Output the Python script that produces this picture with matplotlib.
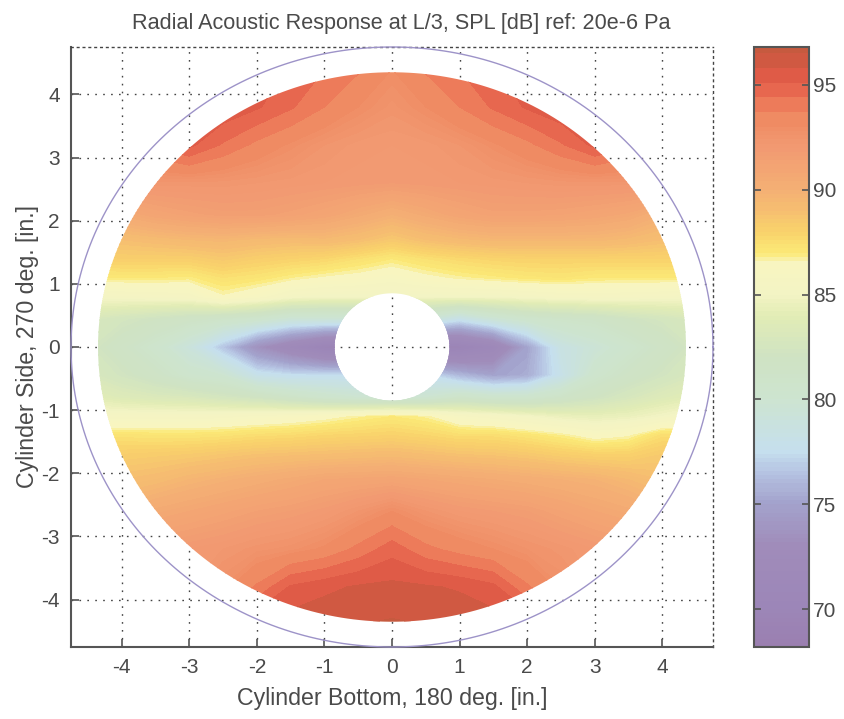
"""
    Radial acoustic response of the cylinder at L/3
"""

import numpy as np
import matplotlib.pyplot as plt
from matplotlib.colors import LinearSegmentedColormap
from matplotlib.patches import PathPatch
from matplotlib.path import Path

plt.rcParams['font.family'] = ['Liberation Sans', 'DejaVu Sans']
plt.rcParams['axes.unicode_minus'] = False

# measurement grid, inches
x_in = [-4.5, -4, -3.5, -3, -2.5, -2, -1.5, -1, -0.5, 0, 0.5, 1, 1.5, 2, 2.5, 3, 3.5, 4, 4.5]
y_in = [4.4, 3.8, 3.2, 2.6, 2.1, 1.7, 1.4, 1.1, 0.8, 0.45, 0, -0.45, -0.8, -1.1, -1.4, -1.7, -2.1, -2.6, -3.2, -3.8, -4.4]

# SPL in dB, one row per y_in
spl_p44 = [95, 95, 95.2, 95.6, 95.7, 95.6, 95, 94.4, 93.8, 93, 93.8, 94.4, 95, 95.6, 95.8, 95.8, 95.2, 95, 95]
spl_p38 = [95, 95, 95.2, 95.7, 95.7, 95.2, 94.5, 93.7, 93, 92.5, 93, 93.7, 94.5, 95.2, 95.7, 95.9, 95.2, 95, 95]
spl_p32 = [93.5, 93.8, 94.5, 95.3, 94.3, 93.5, 92.9, 92.4, 92.1, 92, 92.1, 92.4, 92.9, 93.5, 94.3, 95.3, 94.5, 93.8, 93.5]
spl_p26 = [92, 92.2, 92.3, 92.3, 92.3, 92.2, 92.1, 92, 91.9, 91.8, 91.9, 92, 92.1, 92.2, 92.3, 92.3, 92.3, 92.2, 92]
spl_p21 = [90, 90.5, 91, 91.3, 91.5, 91.5, 91.3, 91, 90.5, 90, 90.5, 91, 91.3, 91.3, 91.2, 91, 90.7, 90, 90]
spl_p17 = [88.8, 89, 89.2, 89.4, 89.5, 89.3, 89.2, 89.3, 89, 88.5, 89, 89.3, 89.5, 89.5, 89.5, 89.5, 89.3, 89, 88.8]
spl_p14 = [88, 88.2, 88.2, 88.2, 88.5, 88.2, 88, 87.8, 87.4, 87, 87.4, 87.7, 87.9, 88, 88, 88, 88, 88, 88]
spl_p11 = [87, 87, 87, 86.9, 87.4, 87.2, 86.8, 86.5, 86.3, 86, 86.4, 86.7, 86.9, 87.1, 87.2, 87, 87, 87, 87]
spl_p08 = [85.2, 85.3, 85.4, 85.5, 86.5, 86, 85.2, 85, 85, 85, 85, 85, 85, 85.2, 85.4, 85.5, 85.4, 85.3, 85.2]
spl_p04 = [83, 82.5, 82, 81.5, 81, 80.5, 79.5, 79.5, 79.5, 79.5, 79.5, 78, 79.5, 80.5, 81, 81.3, 82, 82.5, 83]
spl_p00 = [82.5, 81.5, 80.5, 79, 76.5, 73.5, 71.5, 69.5, 69, 69, 69, 69.5, 71, 75, 78.5, 79.5, 80.5, 81.5, 82.5]
spl_m04 = [83, 82.3, 81.5, 80.5, 80, 78, 77.5, 77.5, 77.5, 77.5, 77.5, 76, 75, 75.5, 78, 80.5, 81.5, 82.3, 83]
spl_m08 = [84, 83.5, 83.2, 83, 82.5, 82, 81.2, 80.5, 80, 80, 80, 81, 80.5, 80.5, 81.2, 82, 82.8, 83.5, 84]
spl_m11 = [85.5, 85.5, 85.5, 85.5, 85.6, 85.8, 86, 86.3, 86.7, 87, 86.7, 85.8, 85.5, 85, 84.5, 84.3, 84.5, 85, 85.5]
spl_m14 = [87.3, 87.3, 87.2, 87.2, 87.3, 87.5, 87.6, 87.8, 87.9, 88, 87.8, 87.5, 87.5, 87.2, 86.8, 86.2, 86.5, 87.5, 87.5]
spl_m17 = [88.2, 88.2, 88.3, 88.4, 88.6, 88.8, 88.9, 89, 89.1, 89.2, 89, 88.8, 88.7, 88.5, 88.2, 88, 88, 88.4, 88.4]
spl_m21 = [88.8, 89, 89.2, 89.6, 89.9, 90.2, 90.5, 90.8, 90.9, 91, 90.8, 90.6, 90.4, 90.2, 90, 89.8, 89.4, 89, 88.8]
spl_m26 = [89.5, 90, 90.5, 90.8, 91.1, 91.4, 91.6, 91.9, 92.4, 93, 92.4, 92, 91.8, 91.6, 91.2, 90.8, 90.5, 90, 89.5]
spl_m32 = [91, 91.5, 91.8, 92, 92.2, 92.5, 92.7, 93.1, 93.9, 94.8, 93.9, 93.4, 93, 92.6, 92.3, 92, 91.7, 91.5, 91]
spl_m38 = [91.5, 91.8, 92, 92.2, 92.8, 93.8, 95.2, 95.6, 95.9, 96, 95.9, 95.7, 95.3, 93.8, 92.8, 92.2, 92, 91.8, 91.5]
spl_m44 = [92.5, 92.8, 93, 93.4, 94.5, 95.9, 96.2, 96.4, 96.5, 96.6, 96.5, 96.4, 96.2, 95.9, 94.5, 93.4, 93, 92.8, 92.5]

spl = np.array([spl_p44, spl_p38, spl_p32, spl_p26, spl_p21, spl_p17, spl_p14,
                spl_p11, spl_p08, spl_p04, spl_p00, spl_m04, spl_m08, spl_m11,
                spl_m14, spl_m17, spl_m21, spl_m26, spl_m32, spl_m38, spl_m44])

x_ticks = [-4, -3, -2, -1, 0, 1, 2, 3, 4]
y_ticks = [-4, -3, -2, -1, 0, 1, 2, 3, 4]
bar_ticks = [70, 75, 80, 85, 90, 95]

r_inner = 0.85
r_outer = 4.35
r_cylinder = 4.75
spl_min = 68.2
spl_max = 96.8

# colormap, value and colour
cmap_values = [68.2, 70, 73, 75, 76.5, 77.5, 80, 82, 84, 85, 86.5, 87, 88, 89, 90, 92, 93.5, 94.3, 95, 95.7, 96.8]
cmap_colors = ['#9b7fb0', '#9c86b8', '#a08cba', '#a3a2cc', '#b5c3e2', '#c5dfee', '#cde4d0',
               '#cfe3c3', '#e2ecb5', '#f3f4c4', '#f8f5c0', '#fbe977', '#f9d36b', '#f6bf70',
               '#f4b074', '#f29a72', '#ef8a62', '#ec7657', '#e4604c', '#dc5845', '#c45a3e']
positions = [(v - spl_min) / (spl_max - spl_min) for v in cmap_values]
cmap = LinearSegmentedColormap.from_list('spl', list(zip(positions, cmap_colors)), N=256)

text_color = '#4a4a4a'
edge_color = '#555555'
grid_color = '#444444'

fig = plt.figure(figsize=(8.45, 7.19), dpi=100)
ax = fig.add_axes([71 / 845, 72 / 719, 642 / 845, 600 / 719])

# fine steps for the soft part, coarser steps so the bands show near the top
levels = np.concatenate([np.arange(spl_min, 93, 0.2), np.arange(93, spl_max, 0.7), [spl_max]])
cs = ax.contourf(x_in, y_in, spl, levels=levels, cmap=cmap, vmin=spl_min, vmax=spl_max,
                 zorder=2, antialiased=False)

# only the annulus between the centre hole and the outer mic radius has data
t = np.linspace(0, 2 * np.pi, 300)
outer = np.column_stack([r_outer * np.cos(t), r_outer * np.sin(t)])
inner = np.column_stack([r_inner * np.cos(t[::-1]), r_inner * np.sin(t[::-1])])
verts = np.vstack([outer, inner])
codes = [Path.MOVETO] + [Path.LINETO] * (len(t) - 1) + [Path.MOVETO] + [Path.LINETO] * (len(t) - 1)
annulus = PathPatch(Path(verts, codes), facecolor='none', edgecolor='none', transform=ax.transData)
ax.add_patch(annulus)
cs.set_clip_path(annulus)

ax.plot(r_cylinder * np.cos(t), r_cylinder * np.sin(t), color='#9d93c8', lw=1.0, zorder=3, clip_on=False)

ax.set_xlim(-4.75, 4.75)
ax.set_ylim(-4.75, 4.75)
ax.set_xticks(x_ticks)
ax.set_yticks(y_ticks)
ax.grid(True, linestyle=(0, (1.2, 4.5)), color=grid_color, linewidth=1.0, zorder=1)
ax.set_axisbelow(True)
ax.tick_params(direction='in', length=6, width=1.2, color=edge_color, labelcolor=text_color,
               labelsize=15, pad=8)
for side in ['left', 'bottom']:
    ax.spines[side].set_color(edge_color)
    ax.spines[side].set_linewidth(1.5)
for side in ['top', 'right']:
    ax.spines[side].set_color(grid_color)
    ax.spines[side].set_linestyle((0, (1.2, 3)))
    ax.spines[side].set_linewidth(1.0)

ax.set_title('Radial Acoustic Response at L/3, SPL [dB] ref: 20e-6 Pa', fontsize=15.6, color=text_color, pad=13, x=0.515)
ax.set_xlabel('Cylinder Bottom, 180 deg. [in.]', fontsize=16.7, color=text_color, labelpad=7)
ax.set_ylabel('Cylinder Side, 270 deg. [in.]', fontsize=16.7, color=text_color, labelpad=2)

# colorbar
cax = fig.add_axes([754 / 845, 72 / 719, 55 / 845, 600 / 719])
cb = fig.colorbar(cs, cax=cax, ticks=bar_ticks, spacing='proportional')
cax.tick_params(which='both', direction='in', left=True, right=True, length=5, width=1.2,
                color=edge_color, labelcolor=text_color, labelsize=15, pad=3)
cax.minorticks_off()
cb.outline.set_edgecolor(edge_color)
cb.outline.set_linewidth(1.5)

plt.savefig('out.png', dpi=100)
